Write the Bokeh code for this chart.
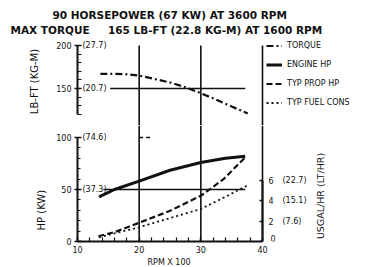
from bokeh.plotting import figure
from bokeh.layouts import column
from bokeh.models import (Range1d, LinearAxis, FixedTicker, Span, Legend,
                          LegendItem, Title, Label)
from bokeh.core.properties import value
from bokeh.embed import file_html
from bokeh.resources import INLINE
import math

# ---------------- data ----------------
title_line1 = "90 HORSEPOWER (67 KW) AT 3600 RPM"
title_line2 = "MAX TORQUE\u00a0\u00a0\u00a0\u00a0\u00a0165 LB-FT (22.8 KG-M) AT 1600 RPM"

rpm_ticks = [10, 20, 30, 40]
rpm_minor = [12, 14, 16, 18, 22, 24, 26, 28, 32, 34, 36, 38]

torque_ticks = [150, 200]
torque_kgm = ["(20.7)", "(27.7)"]
torque_minor = [120, 130, 140, 160, 170, 180, 190]

hp_ticks = [0, 50, 100]
hp_kw_ticks = [50, 100]
hp_kw = ["(37.3)", "(74.6)"]
hp_minor = [10, 20, 30, 40, 60, 70, 80, 90]

fuel_ticks = [0, 2, 4, 6]
fuel_zero = [0]
fuel_lt_ticks = [2, 4, 6]
fuel_lt = ["(7.6)", "(15.1)", "(22.7)"]

torque_rpm = [13.7, 16, 18, 20, 22.5, 25, 27.5, 30, 32.5, 35, 37.6]
torque_lbft = [167, 167, 166.5, 165, 161, 157, 151.5, 144.5, 137, 129, 121]

engine_rpm = [13.5, 16, 20, 25, 30, 34, 37.2]
engine_hp = [43, 50, 58, 68.5, 76, 80, 82]

prop_rpm = [13.4, 16, 20, 25, 30, 33.7, 37.2]
prop_hp = [5, 9, 18, 29.5, 44, 60, 81]

fuel_rpm = [13.5, 16, 20, 25, 30, 34, 37.5]
fuel_gph = [0.4, 0.8, 1.4, 2.3, 3.2, 4.4, 5.5]

grid_rpm = [20, 30, 40]
ref_torque_rpm = [15.3, 37.2]
ref_torque = [150, 150]
ref_hp_rpm = [14.2, 37.2]
ref_hp = [50, 50]
hp100_rpm = [20, 22]
hp100 = [100, 100]

# ---------------- layout / style ----------------
FONT = "DejaVu Sans"
INK = "#111111"
W, H = 370, 267
FRAME_L, AXIS_R, FRAME_R = 77, 262, 360
TOP, SPLIT, BOT = 37, 125, 241
X_PPU = (AXIS_R - FRAME_L) / (rpm_ticks[-1] - rpm_ticks[0])
# pixel position of a reference value and pixels per unit, per value scale
SCALES = {"hp": (241, 0, 1.04), "torque": (88, 150, 0.86), "fuel": (241, 0, 10.17)}

x_range = Range1d(rpm_ticks[0], rpm_ticks[-1] + (FRAME_R - AXIS_R) / X_PPU)


def rng(name, top_px, bot_px):
    ref_px, ref_val, ppu = SCALES[name]
    return Range1d(ref_val - (bot_px - ref_px) / ppu, ref_val + (ref_px - top_px) / ppu)


def make_fig(top_px, bot_px, height, border_top, border_bottom):
    f = figure(width=W, height=height, output_backend="svg", toolbar_location=None,
               x_range=x_range, y_range=Range1d(0, 1),
               x_axis_type=None, y_axis_type=None,
               min_border_left=FRAME_L, min_border_right=W - FRAME_R,
               min_border_top=border_top, min_border_bottom=border_bottom)
    f.extra_y_ranges = {n: rng(n, top_px, bot_px) for n in SCALES}
    f.outline_line_color = None
    f.background_fill_color = "white"
    f.border_fill_color = "white"
    return f


def style(ax, size="8px"):
    ax.major_label_text_font = FONT
    ax.major_label_text_font_size = size
    ax.major_label_text_color = INK
    ax.axis_line_color = INK
    ax.axis_line_width = 2
    ax.major_tick_line_color = INK
    ax.minor_tick_line_color = INK
    ax.major_tick_line_width = 1.5
    ax.minor_tick_line_width = 1.2
    ax.axis_label_text_font = FONT
    ax.axis_label_text_font_style = "normal"
    ax.axis_label_text_color = INK
    ax.axis_label_text_font_size = "10px"


def tick_text(f, xs, ys, texts, rname, xoff, baseline="middle"):
    f.text(x=xs, y=ys, text=texts, y_range_name=rname, x_offset=xoff,
           text_baseline=baseline, text_align="left", text_font=value(FONT),
           text_font_size="8px", text_color=INK)


def draw_series(f):
    f.line(ref_torque_rpm, ref_torque, y_range_name="torque", line_color=INK, line_width=1.5)
    f.line(ref_hp_rpm, ref_hp, y_range_name="hp", line_color=INK, line_width=1.5)
    f.line(hp100_rpm, hp100, y_range_name="hp", line_color=INK, line_width=1.5,
           line_dash="4 3")
    r = {}
    r["tq"] = f.line(torque_rpm, torque_lbft, y_range_name="torque", line_color=INK,
                     line_width=2.2, line_dash="7 3 2 3")
    r["eng"] = f.line(engine_rpm, engine_hp, y_range_name="hp", line_color=INK,
                      line_width=3)
    r["prop"] = f.line(prop_rpm, prop_hp, y_range_name="hp", line_color=INK,
                       line_width=2.2, line_dash="6 3")
    r["fuel"] = f.line(fuel_rpm, fuel_gph, y_range_name="fuel", line_color=INK,
                       line_width=1.8, line_dash="2 3")
    return r


# ================= upper pane: torque + legend =================
top = make_fig(TOP, SPLIT, SPLIT, TOP, 0)

tq = LinearAxis(y_range_name="torque", bounds=(120, 200),
                ticker=FixedTicker(ticks=torque_ticks, minor_ticks=torque_minor),
                axis_label="LB-FT (KG-M)")
style(tq)
tq.major_tick_in = 4
tq.major_tick_out = 3
tq.minor_tick_in = 4
tq.minor_tick_out = 0
tq.major_label_standoff = 3
tq.axis_label_standoff = 13
top.add_layout(tq, "left")

tick_text(top, [rpm_ticks[0]] * len(torque_ticks), torque_ticks, torque_kgm, "torque", 5)

top.segment(x0=grid_rpm, y0=[top.extra_y_ranges["torque"].start - 5] * len(grid_rpm),
            x1=grid_rpm, y1=[torque_ticks[-1]] * len(grid_rpm),
            y_range_name="torque", line_color=INK, line_width=1.6)

rt = draw_series(top)

legend = Legend(items=[LegendItem(label="TORQUE", renderers=[rt["tq"]]),
                       LegendItem(label="ENGINE HP", renderers=[rt["eng"]]),
                       LegendItem(label="TYP PROP HP", renderers=[rt["prop"]]),
                       LegendItem(label="TYP FUEL CONS", renderers=[rt["fuel"]])],
                location=(266 - FRAME_L, SPLIT - 109), padding=0, margin=0, spacing=6,
                label_height=13, glyph_height=13, glyph_width=16, label_standoff=5,
                label_text_font=FONT, label_text_font_size="8px", label_text_color=INK,
                background_fill_alpha=0, border_line_color=None)
top.add_layout(legend)

top.add_layout(Title(text=title_line2, align="left", offset=10 - FRAME_L, text_font=FONT,
                     text_font_size="10.5px", text_font_style="bold", text_color=INK,
                     standoff=3), "above")
top.add_layout(Title(text=title_line1, align="left", offset=52 - FRAME_L, text_font=FONT,
                     text_font_size="10.5px", text_font_style="bold", text_color=INK,
                     standoff=0), "above")

# ================= lower pane: hp and fuel =================
bot = make_fig(SPLIT, BOT, H - SPLIT, 0, H - BOT)

xax = LinearAxis(bounds=(rpm_ticks[0], rpm_ticks[-1]),
                 ticker=FixedTicker(ticks=rpm_ticks, minor_ticks=rpm_minor))
style(xax)
xax.major_tick_in = 4
xax.major_tick_out = 0
xax.minor_tick_in = 4
xax.minor_tick_out = 0
xax.major_label_standoff = 4
bot.add_layout(xax, "below")
bot.add_layout(Title(text="RPM X 100", align="left", offset=147 - FRAME_L, text_font=FONT,
                     text_font_size="8px", text_font_style="normal", text_color=INK,
                     standoff=0), "below")

hpax = LinearAxis(y_range_name="hp", bounds=(0, 100),
                  ticker=FixedTicker(ticks=hp_ticks, minor_ticks=hp_minor))
style(hpax)
hpax.major_tick_in = 4
hpax.major_tick_out = 3
hpax.minor_tick_in = 3
hpax.minor_tick_out = 0
hpax.major_label_standoff = 3
bot.add_layout(hpax, "left")
bot.add_layout(Title(text="HP (KW)", align="left", offset=11, text_font=FONT,
                     text_font_size="10px", text_font_style="normal", text_color=INK,
                     standoff=13), "left")

fax = LinearAxis(y_range_name="fuel", bounds=(0, 6), fixed_location=rpm_ticks[-1],
                 ticker=FixedTicker(ticks=fuel_ticks, minor_ticks=[]),
                 major_label_overrides={fuel_zero[0]: ""})
style(fax)
fax.major_tick_in = 3
fax.major_tick_out = 0
fax.major_label_standoff = 6
bot.add_layout(fax, "right")

tick_text(bot, [rpm_ticks[0]] * len(hp_kw_ticks), hp_kw_ticks, hp_kw, "hp", 5)
tick_text(bot, [rpm_ticks[-1]] * len(fuel_lt_ticks), fuel_lt_ticks, fuel_lt, "fuel", 20)
tick_text(bot, [rpm_ticks[-1]], fuel_zero, ["0"], "fuel", 8, baseline="bottom")

bot.add_layout(Label(x=rpm_ticks[-1], y=(fuel_ticks[0] + fuel_ticks[-1]) / 2,
                     y_range_name="fuel", x_offset=58, y_offset=15,
                     text="USGAL/HR (LT/HR)",
                     angle=math.pi / 2, text_align="center", text_baseline="middle",
                     text_font=FONT, text_font_size="9.5px", text_color=INK))

for g in grid_rpm:
    bot.add_layout(Span(location=g, dimension="height", line_color=INK, line_width=1.6))

draw_series(bot)

layout = column(top, bot, spacing=0)
open("out.html", "w").write(file_html(layout, INLINE))
